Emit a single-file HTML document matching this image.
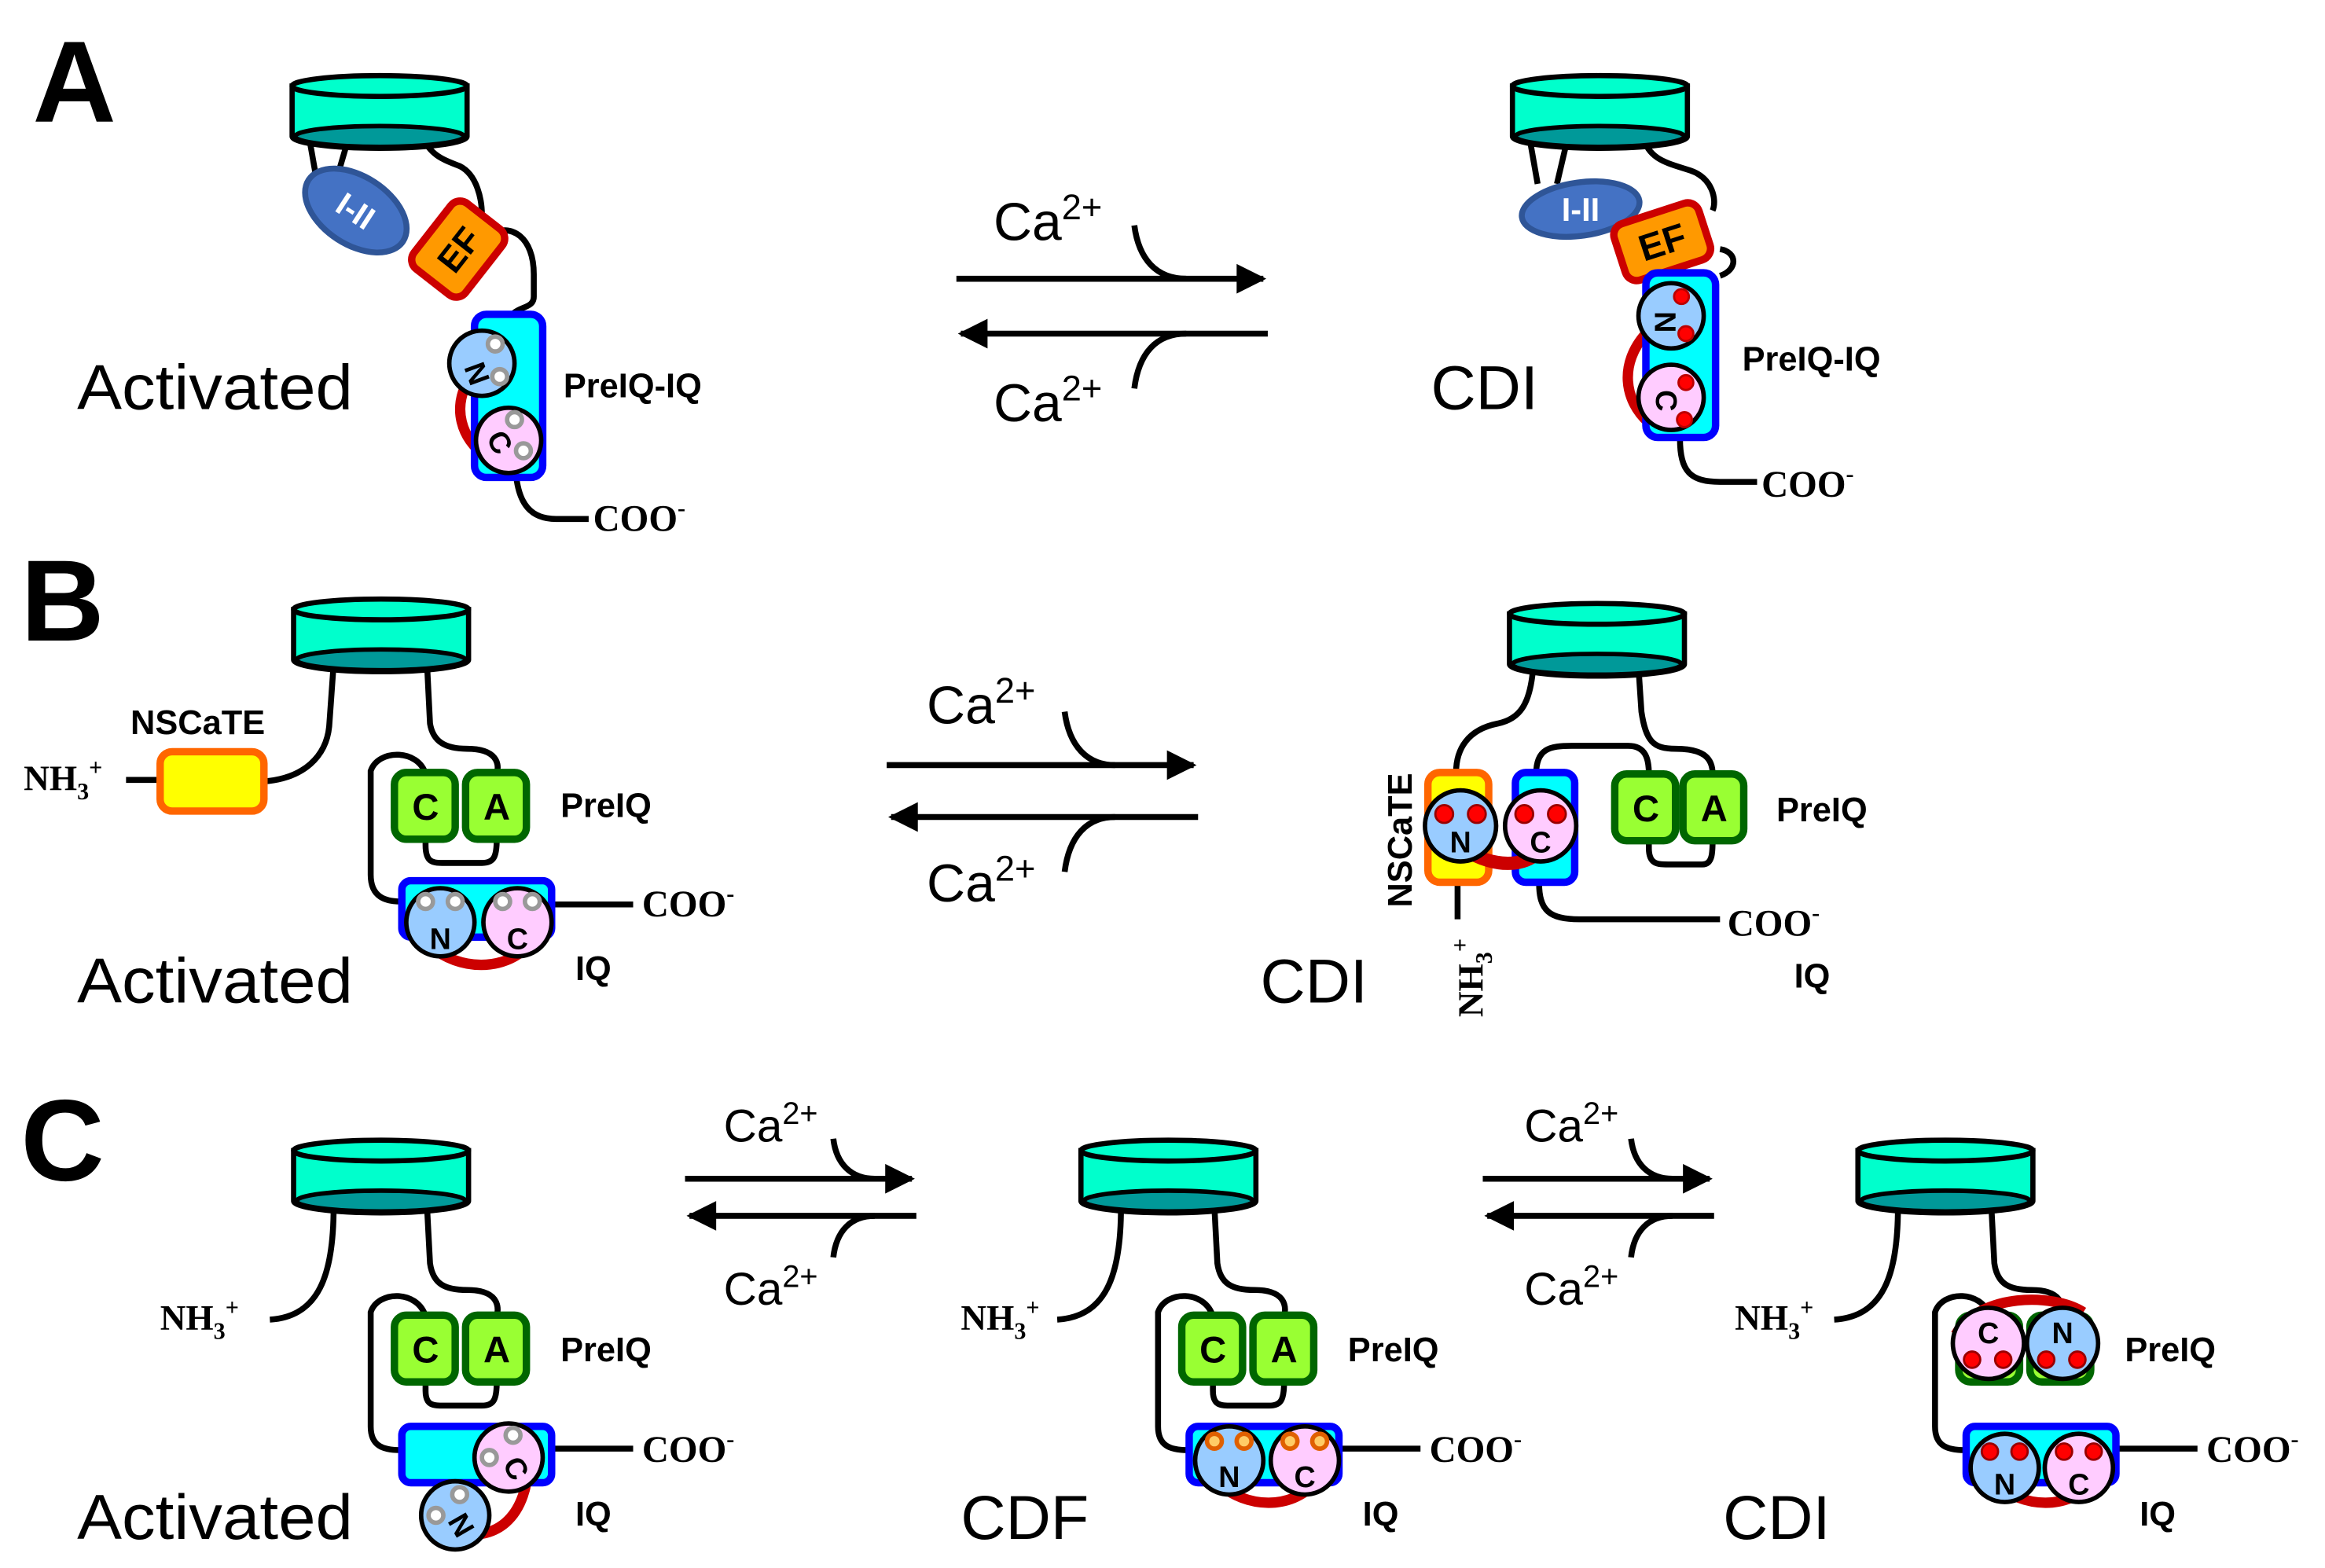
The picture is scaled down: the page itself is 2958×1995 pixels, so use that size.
<!DOCTYPE html>
<html><head><meta charset="utf-8"><style>
html,body{margin:0;padding:0;background:#fff}
svg{display:block}
text{font-family:"Liberation Sans",sans-serif}
.serif{font-family:"Liberation Serif",serif;font-weight:bold}
</style></head><body>
<svg width="2958" height="1995" viewBox="0 0 1568 1057.5" xmlns="http://www.w3.org/2000/svg">
<defs>
<g id="cyl">
<path d="M0,8 L0,42 A59,8 0 0 0 118,42 L118,8 Z" fill="#00ffcc" stroke="#000" stroke-width="3.5"/>
<ellipse cx="59" cy="8" rx="59" ry="7" fill="#00ffcc" stroke="#000" stroke-width="3.5"/>
<ellipse cx="59" cy="42" rx="57" ry="7" fill="#009999" stroke="#000" stroke-width="3"/>
</g>
<g id="gbox"><rect x="0" y="0" width="41" height="45" rx="8" fill="#99ff33" stroke="#006600" stroke-width="5"/></g>
<marker id="ah" viewBox="0 0 10 10" refX="9" refY="5" markerWidth="6" markerHeight="5" orient="auto" markerUnits="strokeWidth"><path d="M0,0 L10,5 L0,10 Z" fill="#000"/></marker>
</defs>

<!-- Panel letters -->
<text x="22" y="82" font-size="78" font-weight="bold">A</text>
<text x="14" y="432" font-size="78" font-weight="bold">B</text>
<text x="14" y="796" font-size="78" font-weight="bold">C</text>

<!-- ============ A left ============ -->
<g fill="none" stroke="#000" stroke-width="4">
<path d="M208,90 L214,124"/><path d="M236,90 L226,124"/>
<path d="M285,92 C290,105 300,108 310,112 C322,118 325,135 325,145"/>
<path d="M330,158 C345,150 360,160 360,185 L360,200 C360,210 345,205 343,218 L343,222"/>
<path d="M348,320 C350,340 358,350 375,350 L397,350"/>
</g>
<use href="#cyl" x="197" y="50"/>
<g transform="rotate(33 240 142)"><ellipse cx="240" cy="142" rx="38" ry="23" fill="#4472c4" stroke="#2f5597" stroke-width="4"/></g>
<text x="240" y="150" font-size="22" font-weight="bold" fill="#fff" text-anchor="middle" transform="rotate(33 240 142)">I-II</text>
<g transform="rotate(38 309 168)"><rect x="287" y="140" width="44" height="56" rx="8" fill="#ff9900" stroke="#cc0000" stroke-width="5"/></g>
<text x="309" y="177" font-size="24" font-weight="bold" text-anchor="middle" transform="rotate(-52 309 168)">EF</text>
<path d="M315,258 C306,275 310,295 328,308" fill="none" stroke="#cc0000" stroke-width="7"/>
<rect x="320" y="212" width="46" height="110" rx="8" fill="#00ffff" stroke="#0000ff" stroke-width="5"/>
<circle cx="325" cy="245" r="22" fill="#99ccff" stroke="#000" stroke-width="3"/>
<circle cx="334" cy="232" r="5" fill="#fff" stroke="#999" stroke-width="3"/><circle cx="337" cy="254" r="5" fill="#fff" stroke="#999" stroke-width="3"/>
<text x="318" y="254" font-size="20" font-weight="bold" transform="rotate(70 320 247)">N</text>
<circle cx="343" cy="297" r="22" fill="#ffccff" stroke="#000" stroke-width="3"/>
<circle cx="347" cy="283" r="5" fill="#fff" stroke="#999" stroke-width="3"/><circle cx="353" cy="304" r="5" fill="#fff" stroke="#999" stroke-width="3"/>
<text x="330" y="305" font-size="20" font-weight="bold" transform="rotate(60 337 298)">C</text>
<text x="380" y="268" font-size="23" font-weight="bold">PreIQ-IQ</text>
<text x="400" y="358" font-size="25" class="serif">COO<tspan font-size="16" dy="-10">-</tspan></text>
<text x="52" y="276" font-size="43" textLength="186" lengthAdjust="spacingAndGlyphs">Activated</text>

<!-- A arrows -->
<g fill="none" stroke="#000" stroke-width="4">
<path d="M645,188 L852,188" marker-end="url(#ah)"/>
<path d="M765,152 C768,175 780,188 800,188"/>
<path d="M855,225 L648,225" marker-end="url(#ah)"/>
<path d="M765,262 C768,238 780,225 800,225"/>
</g>
<text x="670" y="162" font-size="36">Ca<tspan font-size="24" dy="-14">2+</tspan></text>
<text x="670" y="284" font-size="36">Ca<tspan font-size="24" dy="-14">2+</tspan></text>

<!-- ============ A right ============ -->
<g fill="none" stroke="#000" stroke-width="4">
<path d="M1031,90 L1037,124"/><path d="M1058,90 L1050,124"/>
<path d="M1108,92 C1112,108 1125,110 1140,115 C1155,120 1158,135 1155,142"/>
<path d="M1160,168 C1172,170 1172,182 1160,186"/>
<path d="M1133,296 C1133,318 1140,325 1160,325 L1185,325"/>
</g>
<use href="#cyl" x="1020" y="50"/>
<g transform="rotate(-8 1066 141)"><ellipse cx="1066" cy="141" rx="40" ry="18" fill="#4472c4" stroke="#2f5597" stroke-width="4"/></g>
<text x="1066" y="149" font-size="22" font-weight="bold" fill="#fff" text-anchor="middle">I-II</text>
<g transform="rotate(-18 1121 163)"><rect x="1091" y="143" width="60" height="40" rx="8" fill="#ff9900" stroke="#cc0000" stroke-width="5"/></g>
<text x="1121" y="172" font-size="25" font-weight="bold" text-anchor="middle" transform="rotate(-18 1121 163)">EF</text>
<path d="M1110,225 C1092,245 1095,270 1112,285" fill="none" stroke="#cc0000" stroke-width="7"/>
<rect x="1110" y="184" width="47" height="111" rx="8" fill="#00ffff" stroke="#0000ff" stroke-width="5"/>
<circle cx="1127" cy="213" r="22" fill="#99ccff" stroke="#000" stroke-width="3"/>
<circle cx="1134" cy="200" r="5" fill="#f00" stroke="#b00" stroke-width="1.5"/><circle cx="1137" cy="225" r="5" fill="#f00" stroke="#b00" stroke-width="1.5"/>
<text x="1120" y="222" font-size="20" font-weight="bold" transform="rotate(90 1124 214)">N</text>
<circle cx="1127" cy="268" r="22" fill="#ffccff" stroke="#000" stroke-width="3"/>
<circle cx="1137" cy="258" r="5" fill="#f00" stroke="#b00" stroke-width="1.5"/><circle cx="1136" cy="283" r="5" fill="#f00" stroke="#b00" stroke-width="1.5"/>
<text x="1118" y="276" font-size="20" font-weight="bold" transform="rotate(90 1124 269)">C</text>
<text x="1175" y="250" font-size="23" font-weight="bold">PreIQ-IQ</text>
<text x="1188" y="335" font-size="25" class="serif">COO<tspan font-size="16" dy="-10">-</tspan></text>
<text x="965" y="276" font-size="42">CDI</text>

<!-- ============ B left ============ -->
<g fill="none" stroke="#000" stroke-width="4">
<path d="M85,526 L108,526"/>
<path d="M178,527 C205,525 220,510 222,490 L225,448"/>
<path d="M288,448 L290,488 C292,500 300,505 315,505 C335,505 337,515 335,522"/>
<path d="M287,522 C282,505 255,505 250,520 L250,590 C250,605 260,608 270,608"/>
<path d="M287,566 L287,570 C287,582 292,582 300,582 L325,582 C333,582 335,578 335,566"/>
<path d="M372,610 L427,610"/>
</g>
<use href="#cyl" x="198" y="403"/>
<rect x="108" y="507" width="70" height="40" rx="8" fill="#ffff00" stroke="#ff6600" stroke-width="5"/>
<text x="88" y="495" font-size="23" font-weight="bold">NSCaTE</text>
<text x="16" y="533" font-size="24" class="serif">NH<tspan font-size="16" dy="6">3</tspan><tspan font-size="16" dy="-16">+</tspan></text>
<use href="#gbox" x="266" y="521"/><use href="#gbox" x="314" y="521"/>
<text x="287" y="553" font-size="25" font-weight="bold" text-anchor="middle">C</text>
<text x="335" y="553" font-size="25" font-weight="bold" text-anchor="middle">A</text>
<path d="M290,638 C310,655 340,655 356,638" fill="none" stroke="#cc0000" stroke-width="7"/>
<rect x="271" y="594" width="101" height="38" rx="6" fill="#00ffff" stroke="#0000ff" stroke-width="5"/>
<circle cx="297" cy="622" r="23" fill="#99ccff" stroke="#000" stroke-width="3"/>
<circle cx="287" cy="608" r="5" fill="#fff" stroke="#999" stroke-width="3"/><circle cx="307" cy="608" r="5" fill="#fff" stroke="#999" stroke-width="3"/>
<text x="297" y="640" font-size="20" font-weight="bold" text-anchor="middle">N</text>
<circle cx="349" cy="622" r="23" fill="#ffccff" stroke="#000" stroke-width="3"/>
<circle cx="339" cy="608" r="5" fill="#fff" stroke="#999" stroke-width="3"/><circle cx="359" cy="608" r="5" fill="#fff" stroke="#999" stroke-width="3"/>
<text x="349" y="640" font-size="20" font-weight="bold" text-anchor="middle">C</text>
<text x="378" y="551" font-size="23" font-weight="bold">PreIQ</text>
<text x="433" y="618" font-size="25" class="serif">COO<tspan font-size="16" dy="-10">-</tspan></text>
<text x="388" y="661" font-size="23" font-weight="bold">IQ</text>
<text x="52" y="676" font-size="43" textLength="186" lengthAdjust="spacingAndGlyphs">Activated</text>

<!-- B arrows -->
<g fill="none" stroke="#000" stroke-width="4">
<path d="M598,516 L805,516" marker-end="url(#ah)"/>
<path d="M718,480 C721,503 733,516 752,516"/>
<path d="M808,551 L601,551" marker-end="url(#ah)"/>
<path d="M718,588 C721,564 733,551 752,551"/>
</g>
<text x="625" y="488" font-size="36">Ca<tspan font-size="24" dy="-14">2+</tspan></text>
<text x="625" y="608" font-size="36">Ca<tspan font-size="24" dy="-14">2+</tspan></text>

<!-- ============ B right ============ -->
<g fill="none" stroke="#000" stroke-width="4">
<path d="M1034,450 C1032,475 1025,485 1010,488 C990,492 982,505 982,521"/>
<path d="M1105,450 L1107,480 C1110,500 1115,505 1130,505 C1150,505 1155,512 1155,522"/>
<path d="M1036,522 C1036,505 1045,503 1060,503 L1098,503 C1110,503 1112,512 1112,522"/>
<path d="M1112,566 L1112,572 C1112,583 1118,583 1125,583 L1148,583 C1155,583 1155,575 1155,566"/>
<path d="M1038,596 C1038,614 1045,620 1065,620 L1160,620"/>
<path d="M983,596 L983,620"/>
</g>
<use href="#cyl" x="1018" y="406"/>
<rect x="963" y="521" width="41" height="74" rx="8" fill="#ffff00" stroke="#ff6600" stroke-width="5"/>
<rect x="1022" y="521" width="40" height="74" rx="7" fill="#00ffff" stroke="#0000ff" stroke-width="5"/>
<path d="M995,577 C1010,584 1025,584 1035,577" fill="none" stroke="#cc0000" stroke-width="9"/>
<use href="#gbox" x="1089" y="522"/><use href="#gbox" x="1135" y="522"/>
<text x="1110" y="554" font-size="25" font-weight="bold" text-anchor="middle">C</text>
<text x="1156" y="554" font-size="25" font-weight="bold" text-anchor="middle">A</text>
<circle cx="985" cy="557" r="24" fill="#99ccff" stroke="#000" stroke-width="3"/>
<circle cx="974" cy="549" r="6" fill="#f00" stroke="#900" stroke-width="1.5"/><circle cx="996" cy="549" r="6" fill="#f00" stroke="#900" stroke-width="1.5"/>
<text x="985" y="575" font-size="20" font-weight="bold" text-anchor="middle">N</text>
<circle cx="1039" cy="557" r="24" fill="#ffccff" stroke="#000" stroke-width="3"/>
<circle cx="1028" cy="549" r="6" fill="#f00" stroke="#900" stroke-width="1.5"/><circle cx="1050" cy="549" r="6" fill="#f00" stroke="#900" stroke-width="1.5"/>
<text x="1039" y="575" font-size="20" font-weight="bold" text-anchor="middle">C</text>
<text x="1198" y="554" font-size="23" font-weight="bold">PreIQ</text>
<text x="1165" y="631" font-size="25" class="serif">COO<tspan font-size="16" dy="-10">-</tspan></text>
<text x="1210" y="666" font-size="23" font-weight="bold">IQ</text>
<text x="952" y="612" font-size="23" font-weight="bold" transform="rotate(-90 952 612)">NSCaTE</text>
<text x="1000" y="686" font-size="24" class="serif" transform="rotate(-90 1000 686)">NH<tspan font-size="16" dy="6">3</tspan><tspan font-size="16" dy="-16">+</tspan></text>
<text x="850" y="676" font-size="42">CDI</text>

<!-- ============ C units ============ -->
<g fill="none" stroke="#000" stroke-width="4">
<path d="M225,814 C225,860 215,888 182,890"/>
<path d="M288,814 L290,852 C292,866 300,870 315,870 C335,870 337,880 335,888"/>
<path d="M287,888 C282,870 255,870 250,885 L250,962 C250,975 258,978 270,978"/>
<path d="M287,932 L287,938 C287,948 292,948 300,948 L325,948 C333,948 335,944 335,932"/>
<path d="M372,977 L427,977"/>
</g>
<use href="#cyl" x="198" y="768"/>
<use href="#gbox" x="266" y="887"/><use href="#gbox" x="314" y="887"/>
<text x="287" y="919" font-size="25" font-weight="bold" text-anchor="middle">C</text>
<text x="335" y="919" font-size="25" font-weight="bold" text-anchor="middle">A</text>
<path d="M355,1000 C350,1025 335,1035 318,1035" fill="none" stroke="#cc0000" stroke-width="7"/>
<rect x="271" y="962" width="101" height="38" rx="6" fill="#00ffff" stroke="#0000ff" stroke-width="5"/>
<circle cx="343" cy="983" r="23" fill="#ffccff" stroke="#000" stroke-width="3"/>
<circle cx="346" cy="968" r="5" fill="#fff" stroke="#999" stroke-width="3"/><circle cx="330" cy="983" r="5" fill="#fff" stroke="#999" stroke-width="3"/>
<text x="350" y="996" font-size="20" font-weight="bold" text-anchor="middle" transform="rotate(60 348 988)">C</text>
<circle cx="307" cy="1022" r="23" fill="#99ccff" stroke="#000" stroke-width="3"/>
<circle cx="294" cy="1022" r="5" fill="#fff" stroke="#999" stroke-width="3"/><circle cx="310" cy="1008" r="5" fill="#fff" stroke="#999" stroke-width="3"/>
<text x="312" y="1036" font-size="20" font-weight="bold" text-anchor="middle" transform="rotate(60 312 1028)">N</text>
<text x="108" y="897" font-size="24" class="serif">NH<tspan font-size="16" dy="6">3</tspan><tspan font-size="16" dy="-16">+</tspan></text>
<text x="378" y="918" font-size="23" font-weight="bold">PreIQ</text>
<text x="433" y="986" font-size="25" class="serif">COO<tspan font-size="16" dy="-10">-</tspan></text>
<text x="388" y="1029" font-size="23" font-weight="bold">IQ</text>
<text x="52" y="1038" font-size="43" textLength="186" lengthAdjust="spacingAndGlyphs">Activated</text>

<g fill="none" stroke="#000" stroke-width="4">
<path d="M462,795 L615,795" marker-end="url(#ah)"/>
<path d="M562,768 C564,785 574,795 590,795"/>
<path d="M618,820 L465,820" marker-end="url(#ah)"/>
<path d="M562,848 C564,830 574,820 590,820"/>
<path d="M1000,795 L1153,795" marker-end="url(#ah)"/>
<path d="M1100,768 C1102,785 1112,795 1128,795"/>
<path d="M1156,820 L1003,820" marker-end="url(#ah)"/>
<path d="M1100,848 C1102,830 1112,820 1128,820"/>
</g>
<text x="488" y="770" font-size="31">Ca<tspan font-size="21" dy="-12">2+</tspan></text>
<text x="488" y="880" font-size="31">Ca<tspan font-size="21" dy="-12">2+</tspan></text>
<text x="1028" y="770" font-size="31">Ca<tspan font-size="21" dy="-12">2+</tspan></text>
<text x="1028" y="880" font-size="31">Ca<tspan font-size="21" dy="-12">2+</tspan></text>

<g transform="translate(531,0)">
<g fill="none" stroke="#000" stroke-width="4">
<path d="M225,814 C225,860 215,888 182,890"/>
<path d="M288,814 L290,852 C292,866 300,870 315,870 C335,870 337,880 335,888"/>
<path d="M287,888 C282,870 255,870 250,885 L250,962 C250,975 258,978 270,978"/>
<path d="M287,932 L287,938 C287,948 292,948 300,948 L325,948 C333,948 335,944 335,932"/>
<path d="M372,977 L427,977"/>
</g>
<use href="#cyl" x="198" y="768"/>
<use href="#gbox" x="266" y="887"/><use href="#gbox" x="314" y="887"/>
<text x="287" y="919" font-size="25" font-weight="bold" text-anchor="middle">C</text>
<text x="335" y="919" font-size="25" font-weight="bold" text-anchor="middle">A</text>
<path d="M290,1000 C310,1018 340,1018 356,1000" fill="none" stroke="#cc0000" stroke-width="7"/>
<rect x="271" y="962" width="101" height="38" rx="6" fill="#00ffff" stroke="#0000ff" stroke-width="5"/>
<circle cx="298" cy="985" r="23" fill="#99ccff" stroke="#000" stroke-width="3"/>
<circle cx="288" cy="972" r="5" fill="#ffcc66" stroke="#e06000" stroke-width="3"/><circle cx="308" cy="972" r="5" fill="#ffcc66" stroke="#e06000" stroke-width="3"/>
<text x="298" y="1003" font-size="20" font-weight="bold" text-anchor="middle">N</text>
<circle cx="349" cy="985" r="23" fill="#ffccff" stroke="#000" stroke-width="3"/>
<circle cx="339" cy="972" r="5" fill="#ffcc66" stroke="#e06000" stroke-width="3"/><circle cx="359" cy="972" r="5" fill="#ffcc66" stroke="#e06000" stroke-width="3"/>
<text x="349" y="1003" font-size="20" font-weight="bold" text-anchor="middle">C</text>
<text x="117" y="897" font-size="24" class="serif">NH<tspan font-size="16" dy="6">3</tspan><tspan font-size="16" dy="-16">+</tspan></text>
<text x="378" y="918" font-size="23" font-weight="bold">PreIQ</text>
<text x="433" y="986" font-size="25" class="serif">COO<tspan font-size="16" dy="-10">-</tspan></text>
<text x="388" y="1029" font-size="23" font-weight="bold">IQ</text>
<text x="117" y="1038" font-size="42">CDF</text>
</g>

<g transform="translate(1055,0)">
<g fill="none" stroke="#000" stroke-width="4">
<path d="M225,814 C225,860 215,888 182,890"/>
<path d="M288,814 L290,852 C292,866 300,870 315,870 C335,870 337,880 335,888"/>
<path d="M287,888 C282,870 255,870 250,885 L250,962 C250,975 258,978 270,978"/>
<path d="M372,977 L427,977"/>
</g>
<use href="#cyl" x="198" y="768"/>
<use href="#gbox" x="266" y="887"/><use href="#gbox" x="314" y="887"/>
<path d="M264,900 C280,872 330,872 350,885" fill="none" stroke="#cc0000" stroke-width="7"/>
<circle cx="286" cy="906" r="24" fill="#ffccff" stroke="#000" stroke-width="3"/>
<circle cx="275" cy="917" r="5.5" fill="#f00" stroke="#900" stroke-width="1.5"/><circle cx="296" cy="917" r="5.5" fill="#f00" stroke="#900" stroke-width="1.5"/>
<text x="286" y="906" font-size="20" font-weight="bold" text-anchor="middle">C</text>
<circle cx="336" cy="906" r="24" fill="#99ccff" stroke="#000" stroke-width="3"/>
<circle cx="325" cy="917" r="5.5" fill="#f00" stroke="#900" stroke-width="1.5"/><circle cx="346" cy="917" r="5.5" fill="#f00" stroke="#900" stroke-width="1.5"/>
<text x="336" y="906" font-size="20" font-weight="bold" text-anchor="middle">N</text>
<path d="M290,1000 C310,1018 340,1018 356,1000" fill="none" stroke="#cc0000" stroke-width="7"/>
<rect x="271" y="962" width="101" height="38" rx="6" fill="#00ffff" stroke="#0000ff" stroke-width="5"/>
<circle cx="297" cy="990" r="23" fill="#99ccff" stroke="#000" stroke-width="3"/>
<circle cx="287" cy="979" r="5.5" fill="#f00" stroke="#900" stroke-width="1.5"/><circle cx="307" cy="979" r="5.5" fill="#f00" stroke="#900" stroke-width="1.5"/>
<text x="297" y="1008" font-size="20" font-weight="bold" text-anchor="middle">N</text>
<circle cx="347" cy="990" r="23" fill="#ffccff" stroke="#000" stroke-width="3"/>
<circle cx="337" cy="979" r="5.5" fill="#f00" stroke="#900" stroke-width="1.5"/><circle cx="357" cy="979" r="5.5" fill="#f00" stroke="#900" stroke-width="1.5"/>
<text x="347" y="1008" font-size="20" font-weight="bold" text-anchor="middle">C</text>
<text x="115" y="897" font-size="24" class="serif">NH<tspan font-size="16" dy="6">3</tspan><tspan font-size="16" dy="-16">+</tspan></text>
<text x="378" y="918" font-size="23" font-weight="bold">PreIQ</text>
<text x="433" y="986" font-size="25" class="serif">COO<tspan font-size="16" dy="-10">-</tspan></text>
<text x="388" y="1029" font-size="23" font-weight="bold">IQ</text>
<text x="107" y="1038" font-size="42">CDI</text>
</g>
</svg>
</body></html>
